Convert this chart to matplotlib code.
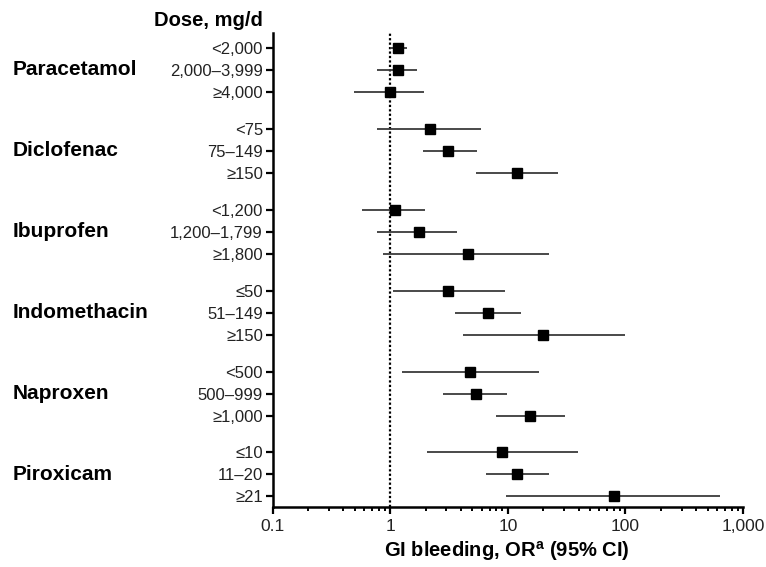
import matplotlib
matplotlib.use("Agg")
import matplotlib.pyplot as plt
import matplotlib.transforms as mtransforms
import numpy as np

plt.rcParams['font.family'] = ['Liberation Sans', 'DejaVu Sans']
plt.rcParams['mathtext.fontset'] = 'custom'
plt.rcParams['mathtext.rm'] = 'Liberation Sans'
plt.rcParams['mathtext.bf'] = 'Liberation Sans:bold'

# data
drugs = ["Paracetamol", "Diclofenac", "Ibuprofen", "Indomethacin", "Naproxen", "Piroxicam"]
doses = [
    ["<2,000", "2,000\u20133,999", "\u22654,000"],
    ["<75", "75\u2013149", "\u2265150"],
    ["<1,200", "1,200\u20131,799", "\u22651,800"],
    ["\u226450", "51\u2013149", "\u2265150"],
    ["<500", "500\u2013999", "\u22651,000"],
    ["\u226410", "11\u201320", "\u226521"],
]
odds = [1.17, 1.17, 1.0,
        2.16, 3.1, 12.0,
        1.09, 1.75, 4.54,
        3.1, 6.76, 20.0,
        4.8, 5.37, 15.5,
        8.94, 12.0, 79.8]
ci_low = [1.0, 0.77, 0.49,
          0.77, 1.88, 5.4,
          0.58, 0.77, 0.86,
          1.05, 3.52, 4.17,
          1.26, 2.81, 7.86,
          2.06, 6.46, 9.55]
ci_high = [1.39, 1.69, 1.92,
           5.86, 5.48, 26.8,
           1.97, 3.7, 22.3,
           9.43, 13.0, 99.0,
           18.4, 9.75, 30.5,
           39.7, 22.3, 637.0]

group_step = 3.68
ypos = []
labels = []
for g, grp in enumerate(doses):
    for i, d in enumerate(grp):
        ypos.append(g * group_step + i)
        labels.append(d)
ypos = np.array(ypos)
odds = np.array(odds)
err = [odds - np.array(ci_low), np.array(ci_high) - odds]

fig = plt.figure(figsize=(7.66, 5.67), dpi=100)
ax = fig.add_axes([0.356, 0.105, 0.614, 0.837])

ax.axvline(1, color='black', ls=(0, (1, 1)), lw=1.6, zorder=1)
ax.errorbar(odds, ypos, xerr=err, fmt='s', color='black', ms=6.5,
            ecolor='#3a3a3a', elinewidth=1.3, capsize=0, zorder=3)

ax.set_xscale('log')
ax.set_xlim(0.1, 1000)
ax.set_ylim(ypos[-1] + 0.5, -0.68)
ax.set_xticks([0.1, 1, 10, 100, 1000])
ax.set_xticklabels(["0.1", "1", "10", "100", "1,000"])
ax.xaxis.set_minor_locator(matplotlib.ticker.LogLocator(base=10, subs=np.arange(2, 10)))
ax.xaxis.set_minor_formatter(matplotlib.ticker.NullFormatter())
ax.set_yticks(ypos)
ax.set_yticklabels(labels)

ax.tick_params(axis='both', which='major', width=1.6, length=5, color='black',
               labelcolor='#222222', pad=2)
ax.tick_params(axis='y', which='major', labelsize=12)
ax.tick_params(axis='x', which='major', labelsize=12.5, pad=3)
ax.tick_params(axis='x', which='minor', width=1.4, length=3)
ax.spines['top'].set_visible(False)
ax.spines['right'].set_visible(False)
ax.spines['left'].set_linewidth(1.8)
ax.spines['bottom'].set_linewidth(1.8)

fig.text(507 / 766, 1 - 551 / 567, r"GI bleeding, OR$^{\mathbf{a}}$ (95% CI)",
         fontsize=14.5, fontweight='bold', ha='center', va='center')

trans = mtransforms.blended_transform_factory(fig.transFigure, ax.transData)
for g, name in enumerate(drugs):
    yc = g * group_step + 1
    fig.text(13 / 766, yc, name, fontsize=15, fontweight='bold', va='center', ha='left',
             transform=trans)

fig.text(263 / 766, 1 - 21 / 567, "Dose, mg/d", fontsize=14.5, fontweight='bold', ha='right', va='center')

fig.savefig("out.png", dpi=100)
